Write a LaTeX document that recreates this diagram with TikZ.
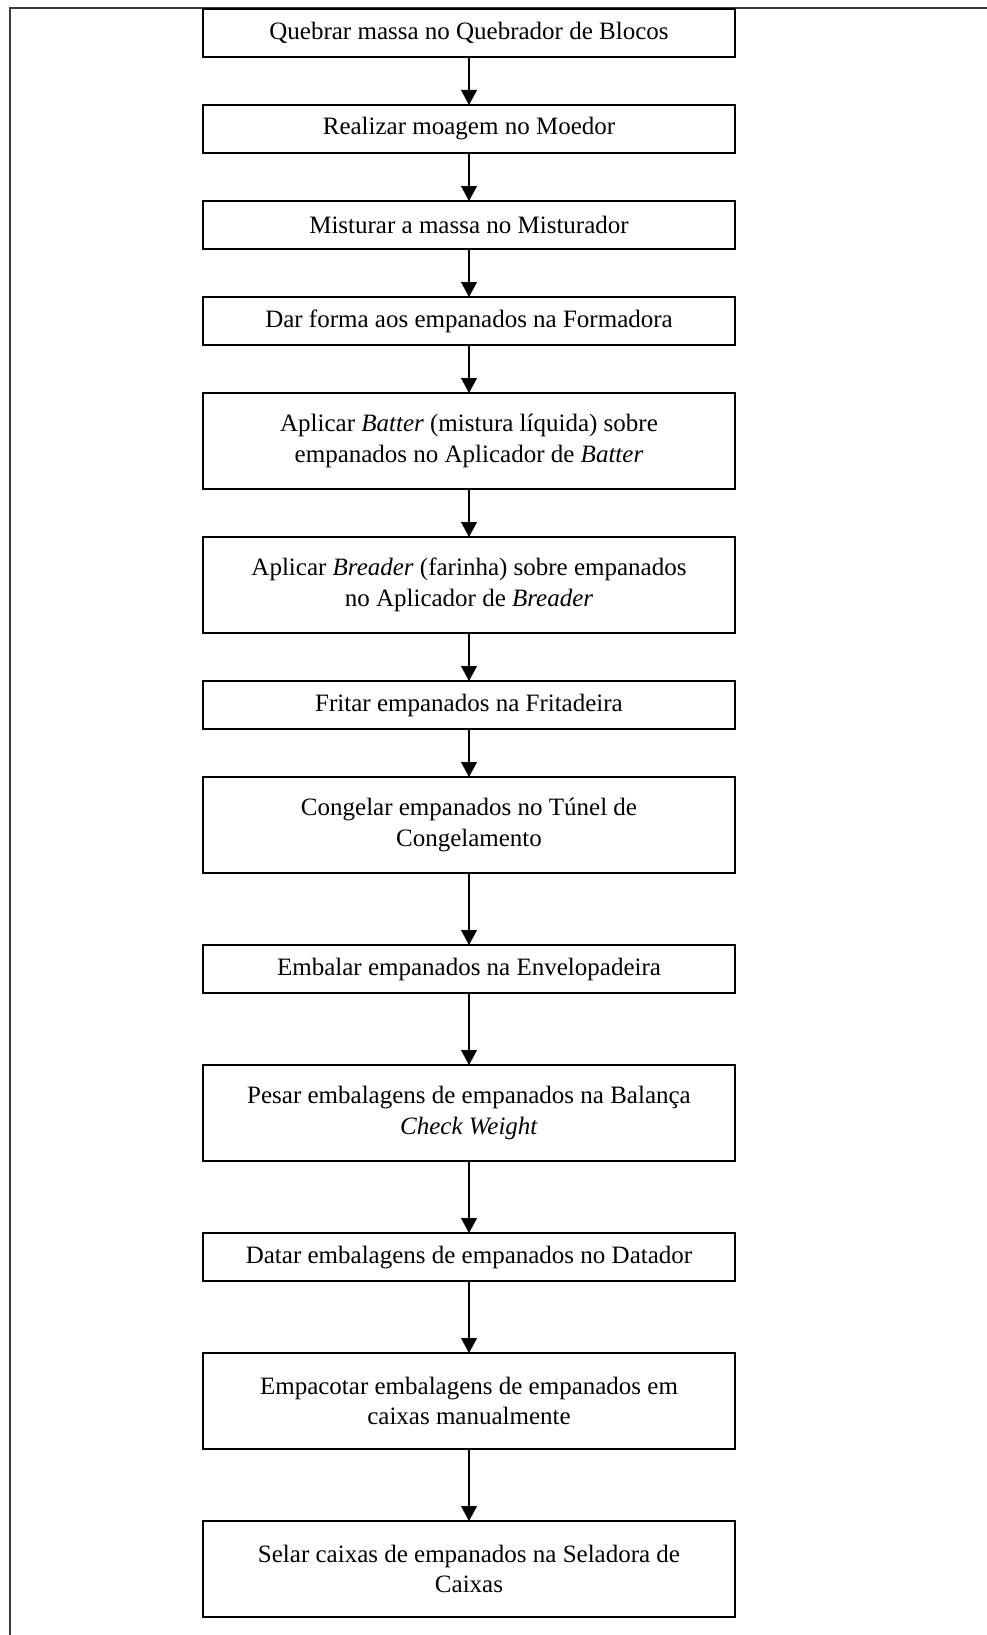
\documentclass[tikz,border=0pt]{standalone}
\usepackage{fontspec}
\setmainfont{Liberation Serif}
\usetikzlibrary{positioning,arrows.meta}
\definecolor{frameline}{HTML}{3A3A3A}

\begin{document}
\begin{tikzpicture}[x=0.48pt, y=-0.48pt, node distance=23.04pt,
  stepbox/.style={draw, line width=0.8pt, minimum width=255.36pt, minimum height=23.04pt,
    inner sep=0pt, outer sep=0pt, align=center, font=\fontsize{12}{14.6}\selectfont},
  tallbox/.style={stepbox, minimum height=46.08pt},
  flow/.style={-{Triangle[length=7.2pt,width=7.6pt]}, line width=0.7pt}]
\useasboundingbox (0,0) rectangle (986,1635);
% moldura da pagina
\draw[frameline, line width=1pt] (10,1640) -- (10,8) -- (990,8);

\node[stepbox] (s1) at (469,33) {Quebrar massa no Quebrador de Blocos};
\node[stepbox, below=of s1] (s2) {Realizar moagem no Moedor};
\node[stepbox, below=of s2] (s3) {Misturar a massa no Misturador};
\node[stepbox, below=of s3] (s4) {Dar forma aos empanados na Formadora};
\node[tallbox, below=of s4] (s5)
{Aplicar \textit{Batter} (mistura líquida) sobre\\empanados no Aplicador de \textit{Batter}};
\node[tallbox, below=of s5] (s6)
{Aplicar \textit{Breader} (farinha) sobre empanados\\no Aplicador de \textit{Breader}};
\node[stepbox, below=of s6] (s7) {Fritar empanados na Fritadeira};
\node[tallbox, below=of s7] (s8) {Congelar empanados no Túnel de\\Congelamento};
\node[stepbox, below=34.56pt of s8] (s9) {Embalar empanados na Envelopadeira};
\node[tallbox, below=34.56pt of s9] (s10)
{Pesar embalagens de empanados na Balança\\\textit{Check Weight}};
\node[stepbox, below=34.56pt of s10] (s11) {Datar embalagens de empanados no Datador};
\node[tallbox, below=34.56pt of s11] (s12)
{Empacotar embalagens de empanados em\\caixas manualmente};
\node[tallbox, below=34.56pt of s12] (s13)
{Selar caixas de empanados na Seladora de\\Caixas};

% setas entre etapas
\draw[flow] (s1) -- (s2);
\draw[flow] (s2) -- (s3);
\draw[flow] (s3) -- (s4);
\draw[flow] (s4) -- (s5);
\draw[flow] (s5) -- (s6);
\draw[flow] (s6) -- (s7);
\draw[flow] (s7) -- (s8);
\draw[flow] (s8) -- (s9);
\draw[flow] (s9) -- (s10);
\draw[flow] (s10) -- (s11);
\draw[flow] (s11) -- (s12);
\draw[flow] (s12) -- (s13);
\end{tikzpicture}
\end{document}
